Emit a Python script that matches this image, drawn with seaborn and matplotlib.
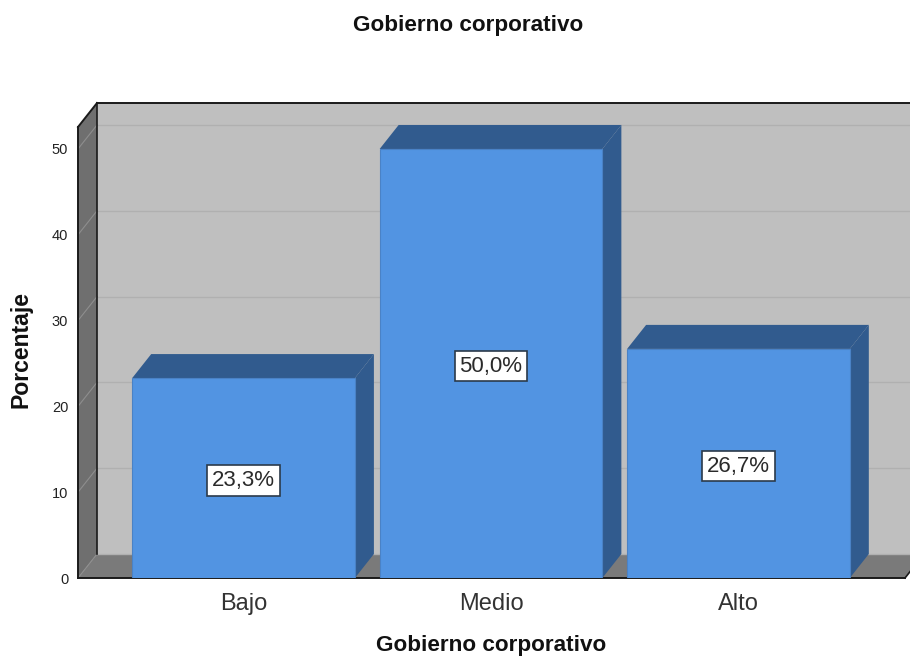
#!/usr/bin/env python3
"""3D-look bar chart (SPSS style) of Gobierno corporativo."""
import matplotlib
matplotlib.use("Agg")
import matplotlib.pyplot as plt
from matplotlib.patches import Polygon
from matplotlib.transforms import IdentityTransform
import seaborn as sns

# ---------------------------
# Data
# ---------------------------
categories = ["Bajo", "Medio", "Alto"]
percentages = [23.3, 50.0, 26.7]
bar_labels = ["23,3%", "50,0%", "26,7%"]
y_ticks = [0, 10, 20, 30, 40, 50]
title = "Gobierno corporativo"
x_title = "Gobierno corporativo"
y_title = "Porcentaje"

# ---------------------------
# Style
# ---------------------------
W, H = 910, 657
DEPTH_X, DEPTH_Y = 19, 24  # extrusion of the fake 3D, pixels
FRONT = "#5294E2"
SHADE = "#315B8E"
WALL = "#BFBFBF"
SIDE_WALL = "#6F6F6F"
FLOOR = "#7A7A7A"
GRID = "#B0B0B0"
OUTLINE = "#1A1A1A"

sns.set_style("white")
plt.rcParams["font.family"] = ["Liberation Sans", "DejaVu Sans"]

fig = plt.figure(figsize=(W / 100, H / 100), dpi=100)
# front plane of the box
ax = fig.add_axes([78 / W, (H - 578) / H, (905 - 78) / W, (578 - 127) / H])

sns.barplot(x=categories, y=percentages, color=FRONT, saturation=1, width=0.9,
            edgecolor="#4A82C6", linewidth=0.8, zorder=5, ax=ax)
ax.set_xlim(-0.669, 2.673)
ax.set_ylim(0, 52.56)
ax.patch.set_visible(False)
for s in ax.spines.values():
    s.set_visible(False)

px = IdentityTransform()
fig.canvas.draw()


def to_px(x, y, tr=ax.transData):
    return tuple(tr.transform((x, y)))


def face(points, color, z, edge="none", lw=0):
    ax.add_patch(Polygon(points, closed=True, facecolor=color, edgecolor=edge, linewidth=lw,
                         transform=px, clip_on=False, zorder=z))


def line(a, b, color, lw, z):
    ax.plot([a[0], b[0]], [a[1], b[1]], color=color, lw=lw, transform=px, clip_on=False,
            zorder=z, solid_capstyle="projecting", scalex=False, scaley=False)


# ---------------------------
# Box: back wall, side wall, floor
# ---------------------------
bl = to_px(0, 0, ax.transAxes)
br = to_px(1, 0, ax.transAxes)
tl = to_px(0, 1, ax.transAxes)
tr_ = to_px(1, 1, ax.transAxes)
d = (DEPTH_X, DEPTH_Y)


def back(p):
    return (p[0] + d[0], p[1] + d[1])


face([back(bl), back(br), back(tr_), back(tl)], WALL, 1)
face([bl, back(bl), back(tl), tl], SIDE_WALL, 1)
face([bl, br, back(br), back(bl)], FLOOR, 1)

# gridlines run over the side wall and the back wall
for t in y_ticks:
    p0 = to_px(-0.669, t)
    p1 = to_px(2.673, t)
    line(back(p0), back(p1), GRID, 1.0, 2)
    line(p0, back(p0), "#8E8E8E", 0.8, 2)

line(tl, bl, OUTLINE, 1.4, 3)
line(bl, br, OUTLINE, 1.4, 3)
line(tl, back(tl), OUTLINE, 1.4, 3)
line(back(tl), back(tr_), OUTLINE, 1.4, 3)
line(back(tl), back(bl), OUTLINE, 1.2, 3)
line(br, back(br), OUTLINE, 1.2, 3)

# ---------------------------
# Bars: extrude each seaborn bar, then label it
# ---------------------------
for bar, label in zip(ax.patches[:len(categories)], bar_labels):
    x0, x1 = bar.get_x(), bar.get_x() + bar.get_width()
    top = bar.get_height()
    a, b, c = to_px(x0, top), to_px(x1, top), to_px(x1, 0)
    face([a, b, back(b), back(a)], SHADE, 4)
    face([c, b, back(b), back(c)], SHADE, 4)
    ax.text((x0 + x1) / 2, top / 2 - 0.3, label, ha="center", va="center", fontsize=16,
            color="#2A2A2A", zorder=6,
            bbox=dict(boxstyle="square,pad=0.22", facecolor="white", edgecolor="#2B3A4A", linewidth=1.2))

# ---------------------------
# Axes text
# ---------------------------
ax.set_yticks(y_ticks)
ax.tick_params(axis="y", length=0, pad=7, labelsize=10.5, labelcolor="#222222")
ax.tick_params(axis="x", length=0, pad=11, labelsize=17, labelcolor="#333333")
ax.set_xlabel(x_title, fontsize=16.2, fontweight="bold", color="#111111")
ax.xaxis.set_label_coords((491 - 78) / 827, (578 - 646) / 451)
ax.xaxis.label.set_va("center")
ax.set_ylabel(y_title, fontsize=16.6, fontweight="bold", color="#111111")
ax.yaxis.set_label_coords((21 - 78) / 827, (578 - 349) / 451)
ax.yaxis.label.set_va("center")
ax.set_title(title, fontsize=16.2, fontweight="bold", color="#111111",
             x=(468 - 78) / 827, y=(578 - 25) / 451, va="center", pad=0)

fig.savefig("out.png", dpi=100, facecolor="white")
plt.close(fig)
